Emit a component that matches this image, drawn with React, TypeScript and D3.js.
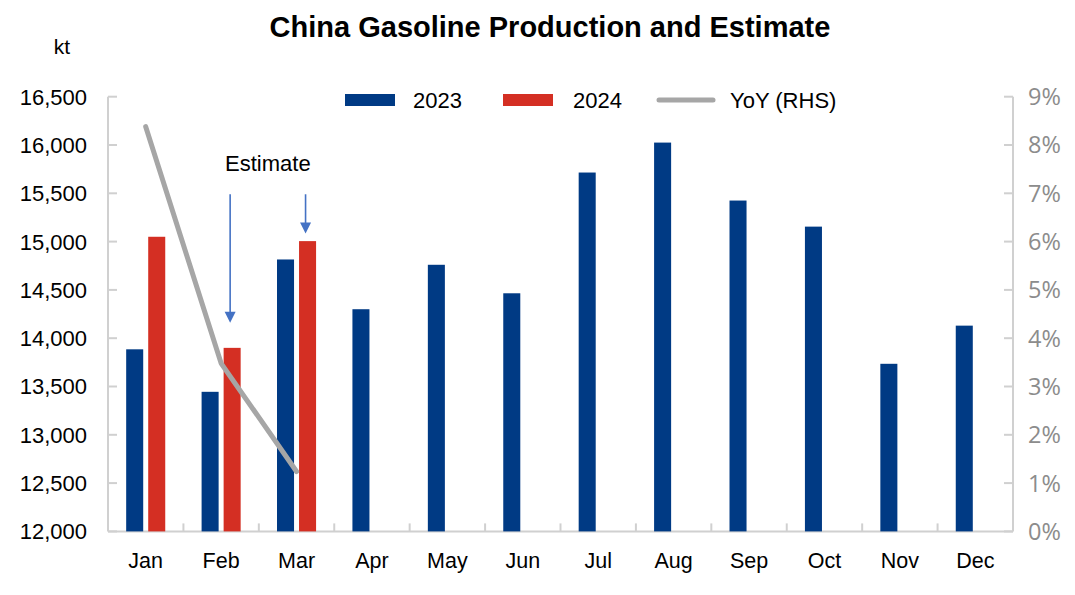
import React from 'react';
import * as d3 from 'd3';

const months = ['Jan', 'Feb', 'Mar', 'Apr', 'May', 'Jun', 'Jul', 'Aug', 'Sep', 'Oct', 'Nov', 'Dec'];
const series = ['2023', '2024'];
const production2023 = [13885, 13445, 14815, 14300, 14760, 14465, 15715, 16025, 15425, 15155, 13735, 14130];
const production2024 = [15050, 13900, 15005];
const yoyPct = [8.38, 3.48, 1.24];
const leftTicks = [12000, 12500, 13000, 13500, 14000, 14500, 15000, 15500, 16000, 16500];
const rightTicks = [0, 1, 2, 3, 4, 5, 6, 7, 8, 9];
const estimateMonths = ['Feb', 'Mar'];
const arrowFromValue = 15490;
const arrowToValues = [14160, 15085];

const W = 1075;
const H = 595;
const X0 = 108;
const X1 = 1013;
const YTOP = 96.7;
const YBOT = 531.4;
const FONT = '"Liberation Sans", Arial, sans-serif';
const BLUE = '#003a84';
const RED = '#d42f23';
const GRAY = '#a6a6a6';
const AXIS = '#d0d0d0';
const ARROW = '#4472c4';

export default function App() {
  const x0 = d3.scaleBand<string>().domain(months).range([X0, X1]).paddingInner(0.482).paddingOuter(0.241);
  const x1 = d3.scaleBand<string>().domain(series).range([0, x0.bandwidth()]).paddingInner(0.227);
  const y = d3.scaleLinear().domain([12000, 16500]).range([YBOT, YTOP]);
  const yR = d3.scaleLinear().domain([0, 9]).range([YBOT, YTOP]);
  const step = x0.step();
  const center = (m: string) => (x0(m) as number) + x0.bandwidth() / 2;

  const line = d3
    .line<number>()
    .x((_, i) => center(months[i]))
    .y((d) => yR(d));

  const fmt = d3.format(',');

  const arrowXs = estimateMonths.map((m) => (x0(m) as number) + (x1('2024') as number) + x1.bandwidth() / 2 - 2);
  const arrowTop = y(arrowFromValue);

  return (
    <svg width={W} height={H} style={{ position: 'absolute', left: 0, top: 0, background: '#fff' }} fontFamily={FONT}>
      <rect width={W} height={H} fill="#fff" />
      <text x={550} y={37} textAnchor="middle" fontSize={29} fontWeight="bold" fill="#000">
        China Gasoline Production and Estimate
      </text>
      <text x={62} y={54} textAnchor="middle" fontSize={21} fill="#000">kt</text>

      {/* axes */}
      <g stroke={AXIS} strokeWidth={2} fill="none">
        <line x1={X0} x2={X0} y1={YTOP} y2={YBOT} />
        <line x1={X1} x2={X1} y1={YTOP} y2={YBOT} />
        <line x1={X0} x2={X1} y1={YBOT} y2={YBOT} />
        {leftTicks.map((t) => (
          <line key={'lt' + t} x1={X0} x2={X0 + 9} y1={y(t)} y2={y(t)} />
        ))}
        {rightTicks.map((t) => (
          <line key={'rt' + t} x1={X1 - 9} x2={X1} y1={yR(t)} y2={yR(t)} />
        ))}
        {months.slice(1).map((m, i) => (
          <line key={'xt' + m} x1={X0 + (i + 1) * step} x2={X0 + (i + 1) * step} y1={YBOT - 8} y2={YBOT} />
        ))}
      </g>

      {leftTicks.map((t) => (
        <text key={'ll' + t} x={X0 - 21} y={y(t)} dy="0.36em" textAnchor="end" fontSize={22} fill="#000">
          {fmt(t)}
        </text>
      ))}
      {rightTicks.map((t) => (
        <text key={'rl' + t} x={X1 + 15} y={yR(t)} dy="0.36em" textAnchor="start" fontSize={23.5} fill="#8c8c8c" fontFamily='"Open Sans", sans-serif'>
          {t + '%'}
        </text>
      ))}
      {months.map((m) => (
        <text key={'xl' + m} x={center(m)} y={560} dy="0.36em" textAnchor="middle" fontSize={21.5} fill="#000">
          {m}
        </text>
      ))}

      {/* bars */}
      {production2023.map((v, i) => (
        <rect key={'b23' + i} x={(x0(months[i]) as number) + (x1('2023') as number)} y={y(v)} width={x1.bandwidth()} height={YBOT - y(v)} fill={BLUE} />
      ))}
      {production2024.map((v, i) => (
        <rect key={'b24' + i} x={(x0(months[i]) as number) + (x1('2024') as number)} y={y(v)} width={x1.bandwidth()} height={YBOT - y(v)} fill={RED} />
      ))}

      {/* YoY line */}
      <path d={line(yoyPct) || ''} fill="none" stroke={GRAY} strokeWidth={5} strokeLinecap="round" strokeLinejoin="round" />

      {/* annotation */}
      <text x={(arrowXs[0] + arrowXs[1]) / 2} y={arrowTop - 23} textAnchor="middle" fontSize={22} fill="#000">
        Estimate
      </text>
      {arrowXs.map((ax, i) => {
        const tip = y(arrowToValues[i]);
        return (
          <g key={'ar' + i}>
            <line x1={ax} x2={ax} y1={arrowTop} y2={tip - 9} stroke={ARROW} strokeWidth={1.6} />
            <path d={`M${ax - 5.5},${tip - 11} L${ax + 5.5},${tip - 11} L${ax},${tip} Z`} fill={ARROW} />
          </g>
        );
      })}

      {/* legend */}
      <rect x={345} y={94} width={50} height={12} fill={BLUE} />
      <text x={413} y={100} dy="0.36em" fontSize={22} fill="#000">2023</text>
      <rect x={503} y={94} width={50} height={12} fill={RED} />
      <text x={573} y={100} dy="0.36em" fontSize={22} fill="#000">2024</text>
      <line x1={659} x2={713} y1={100} y2={100} stroke={GRAY} strokeWidth={5} strokeLinecap="round" />
      <text x={730} y={100} dy="0.36em" fontSize={22} fill="#000">YoY (RHS)</text>
    </svg>
  );
}
